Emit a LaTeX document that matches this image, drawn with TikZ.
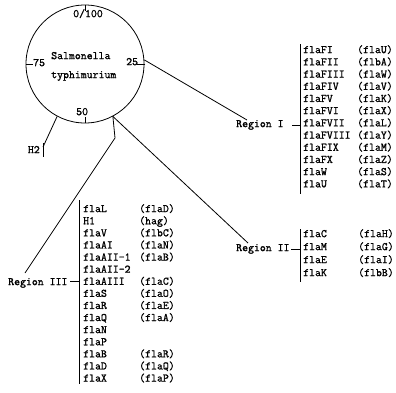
\documentclass[tikz,border=0pt]{standalone}
\usepackage{fontspec}
\newfontfamily\twfont[AutoFakeBold=1.2]{Latin Modern Mono}
\begin{document}
\begin{tikzpicture}[x=1pt,y=-1pt,
  lbl/.style={font=\twfont\bfseries\fontsize{11.5}{12}\selectfont, inner sep=0pt, anchor=mid west},
  ln/.style={line width=0.8pt, black}]
\useasboundingbox (0,0) rectangle (396,392);
% circle map
\node[draw, circle, minimum size=118pt, inner sep=0pt, ln] (circ) at (85,64) {};
\draw[ln] (circ.north) -- ++(0,6);
\draw[ln] (circ.west) -- ++(7,0);
\draw[ln] ([xshift=1pt]circ.east) -- ++(-8,0);
\draw[ln] (circ.south) -- ++(0,-6);
\node[lbl] (l0) at (73,15) {0/100};
\node[lbl] (l75) at (33,64) {75};
\node[lbl] (l25) at (126,63) {25};
\node[lbl] (l50) at (76,113) {50};
\node[lbl] (sal) at (51,57) {Salmonella};
\node[lbl] (typ) at (51,76) {typhimurium};
% H2
\node[lbl, anchor=mid east] (h2) at (40,151) {H2};
\coordinate (h2j) at (43,147);
\draw[ln] (43,143) -- (43,157);
\draw[ln] (circ.-118) -- (h2j);
% Region I
\node[lbl] (r1) at (236,125) {Region I};
\coordinate (r1end) at (247,120);
\coordinate (r1bar) at (300,125);
\draw[ln] (circ.4) -- (r1end);
\draw[ln] (292,125) -- (r1bar);
\draw[ln] (300,44) -- (300,194);
\foreach \a/\b [count=\i from 0] in {flaFI/flaU,flaFII/flbA,flaFIII/flaW,flaFIV/flaV,flaFV/flaK,flaFVI/flaX,flaFVII/flaL,flaFVIII/flaY,flaFIX/flaM,flaFX/flaZ,flaW/flaS,flaU/flaT}{
  \node[lbl] (ga\i) at (303,{51+12.2*\i}) {\a};
  \node[lbl] (pa\i) at (357,{51+12.2*\i}) {(\b)};
}
% Region II
\node[lbl] (r2) at (236,249) {Region II};
\coordinate (r2end) at (248,243);
\coordinate (r2bar) at (300,249);
\draw[ln] (circ.-62) -- (r2end);
\draw[ln] (291,249) -- (r2bar);
\draw[ln] (300,229) -- (300,282);
\foreach \a/\b [count=\i from 0] in {flaC/flaH,flaM/flaG,flaE/flaI,flaK/flbB}{
  \node[lbl] (gb\i) at (303,{235+13*\i}) {\a};
  \node[lbl] (pb\i) at (358,{235+13*\i}) {(\b)};
}
% Region III
\node[lbl] (r3) at (8,283) {Region III};
\coordinate (r3bend) at (115,138);
\coordinate (r3end) at (25,273);
\coordinate (r3bar) at (79,281);
\draw[ln] (circ.-62) -- (r3bend) -- (r3end);
\draw[ln] (70,281) -- (r3bar);
\draw[ln] (79,200) -- (79,384);
\foreach \a [count=\i from 0] in {flaL,H1,flaV,flaAI,flaAII-1,flaAII-2,flaAIII,flaS,flaR,flaQ,flaN,flaP,flaB,flaD,flaX}{
  \node[lbl] (gc\i) at (83,{210+12.1*\i}) {\a};
}
\node[lbl] (pc0) at (139,210) {(flaD)};
\node[lbl] (pc1) at (139,222.1) {(hag)};
\node[lbl] (pc2) at (139,234.2) {(flbC)};
\node[lbl] (pc3) at (139,246.3) {(flaN)};
\node[lbl] (pc4) at (139,258.4) {(flaB)};
\node[lbl] (pc6) at (139,282.6) {(flaC)};
\node[lbl] (pc7) at (139,294.7) {(flaO)};
\node[lbl] (pc8) at (139,306.8) {(flaE)};
\node[lbl] (pc9) at (139,318.9) {(flaA)};
\node[lbl] (pc12) at (139,355.2) {(flaR)};
\node[lbl] (pc13) at (139,367.3) {(flaQ)};
\node[lbl] (pc14) at (139,379.4) {(flaP)};
\end{tikzpicture}
\end{document}
